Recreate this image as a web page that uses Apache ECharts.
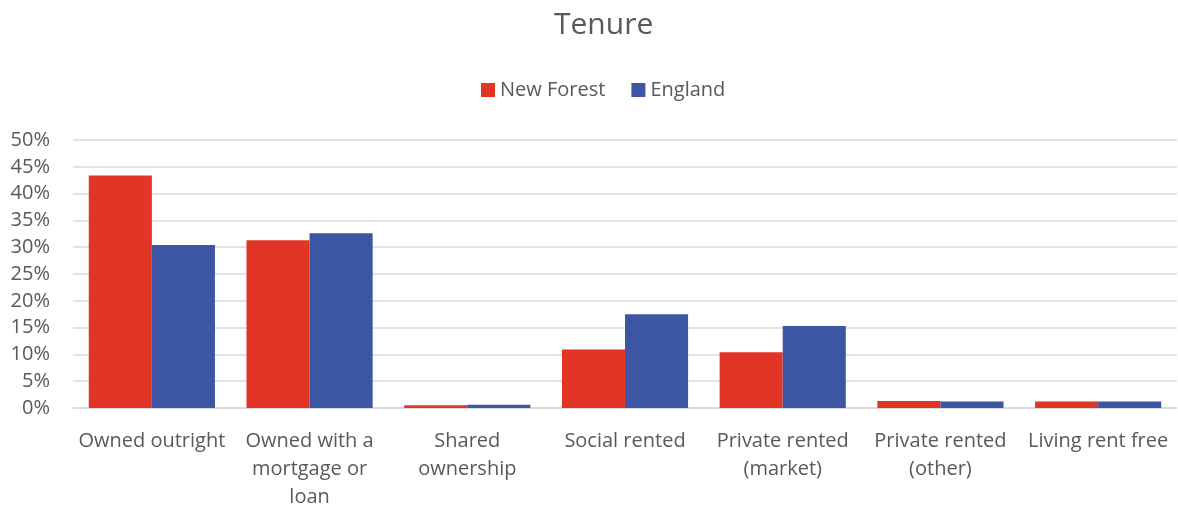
<!DOCTYPE html>
<html>
<head>
<meta charset="utf-8">
<title>Tenure</title>
<script src="https://cdn.jsdelivr.net/npm/echarts@6/dist/echarts.min.js"></script>
<style>
  html, body { margin: 0; padding: 0; background: #fff; }
  #chart { width: 1178px; height: 511px; }
</style>
</head>
<body>
<div id="chart"></div>
<script>
// tenure categories (newlines match the wrapped axis labels)
const categories = [
  'Owned outright',
  'Owned with a\nmortgage or\nloan',
  'Shared\nownership',
  'Social rented',
  'Private rented\n(market)',
  'Private rented\n(other)',
  'Living rent free'
]

// percentage of households
const newForest = [43.4, 31.3, 0.5, 10.9, 10.4, 1.3, 1.2]
const england = [30.4, 32.6, 0.6, 17.5, 15.3, 1.2, 1.2]

const yTicks = { min: 0, max: 50, interval: 5 }

const FONT = '"Open Sans", "Noto Sans", sans-serif'
const TEXT = '#595959'

var chart = echarts.init(document.getElementById('chart'))

chart.setOption({
  animation: false,
  textStyle: { fontFamily: FONT },
  title: {
    text: 'Tenure',
    left: 549,
    top: 5,
    textStyle: { fontFamily: FONT, fontSize: 30, fontWeight: 'normal', color: TEXT }
  },
  legend: {
    top: 75,
    left: 476,
    itemWidth: 14,
    itemHeight: 14,
    itemGap: 26,
    icon: 'rect',
    textStyle: { fontFamily: FONT, fontSize: 20, color: TEXT },
    data: ['New Forest', 'England']
  },
  grid: { left: 73, right: 1, top: 140, bottom: 103 },
  xAxis: {
    type: 'category',
    data: categories,
    axisLine: { lineStyle: { color: '#d9d9d9', width: 1.5 } },
    axisTick: { show: false },
    axisLabel: {
      interval: 0,
      margin: 19,
      fontFamily: FONT,
      fontSize: 20,
      lineHeight: 28,
      color: TEXT
    }
  },
  yAxis: {
    type: 'value',
    min: yTicks.min,
    max: yTicks.max,
    interval: yTicks.interval,
    axisLine: { show: false },
    axisTick: { show: false },
    splitLine: { lineStyle: { color: '#d9d9d9', width: 1.5 } },
    axisLabel: {
      margin: 23,
      fontFamily: FONT,
      fontSize: 20,
      color: TEXT,
      formatter: v => v + '%'
    }
  },
  series: [{
    name: 'New Forest',
    type: 'bar',
    data: newForest,
    barGap: '0%',
    barCategoryGap: '20%',
    itemStyle: { color: '#e33525' }
  }, {
    name: 'England',
    type: 'bar',
    data: england,
    barGap: '0%',
    barCategoryGap: '20%',
    itemStyle: { color: '#3c56a4' }
  }]
})
</script>
</body>
</html>
